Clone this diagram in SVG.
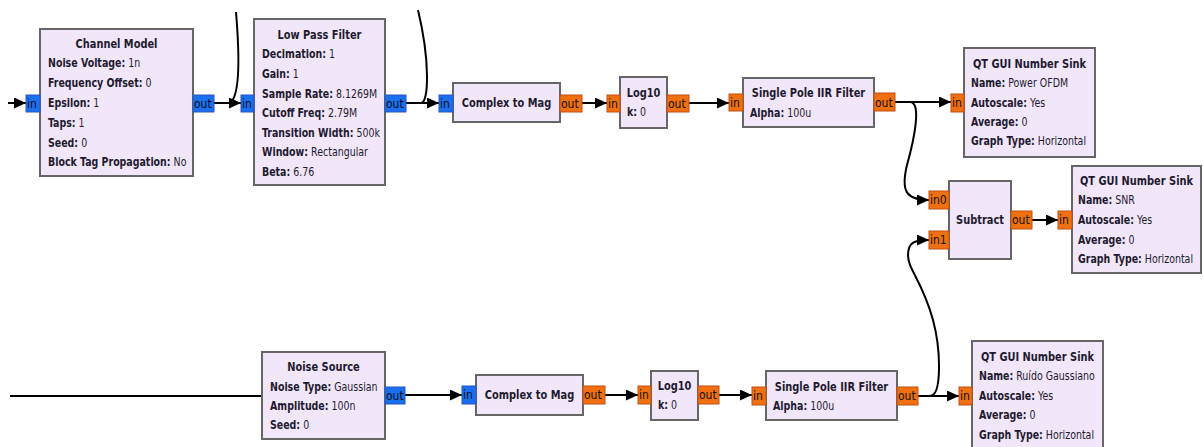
<svg xmlns="http://www.w3.org/2000/svg" width="1203" height="447" viewBox="0 0 1203 447">
<defs>
<marker id="ah" markerUnits="userSpaceOnUse" markerWidth="13" markerHeight="11" refX="12" refY="5.5" orient="auto"><path d="M0,0 L12,5.5 L0,11 z" fill="#000"/></marker>
<style>
.blk{fill:#f2e6fb;stroke:#666;stroke-width:2}
.pb{fill:#1a6ef0;stroke:#2a56c0;stroke-width:1}
.po{fill:#f07010;stroke:#c24e14;stroke-width:1}
text{font-family:"DejaVu Sans Condensed","DejaVu Sans",sans-serif;font-size:12px;fill:#1e1a2e}
.pt{fill:#111}
.t{font-weight:bold;font-size:12.5px}
.b{font-weight:bold}
.c{fill:none;stroke:#000;stroke-width:2}
</style>
</defs>
<rect width="1203" height="447" fill="#fff"/>
<g id="connectors">
<path class="c" d="M8,103 H26" marker-end="url(#ah)"/>
<path class="c" d="M214,103 H241" marker-end="url(#ah)"/>
<path class="c" d="M236,12 C240,60 240,96 230,103"/>
<path class="c" d="M406,103 H439" marker-end="url(#ah)"/>
<path class="c" d="M406,103 H421 C429,103 430,60 418,10"/>
<path class="c" d="M582,103 H607" marker-end="url(#ah)"/>
<path class="c" d="M689,103 H729" marker-end="url(#ah)"/>
<path class="c" d="M895,102 H951" marker-end="url(#ah)"/>
<path class="c" d="M895,102 H910 C922,102 914,140 907,165 C901,190 905,200 929,200" marker-end="url(#ah)"/>
<path class="c" d="M1032,220 H1058" marker-end="url(#ah)"/>
<path class="c" d="M10,396 H262"/>
<path class="c" d="M405,395 H462" marker-end="url(#ah)"/>
<path class="c" d="M605,395 H638" marker-end="url(#ah)"/>
<path class="c" d="M719,395 H752" marker-end="url(#ah)"/>
<path class="c" d="M918,396 H959" marker-end="url(#ah)"/>
<path class="c" d="M918,396 H930 C942,396 941,350 933,320 C922,280 908,270 908,255 C908,242 915,240 929,240" marker-end="url(#ah)"/>
</g>
<g id="channel_model">
<rect class="blk" x="40" y="29" width="153" height="147"/>
<rect class="pb" x="26" y="95" width="14" height="17"/><text class="pt" x="27" y="108">in</text>
<rect class="pb" x="193" y="95" width="21" height="17"/><text class="pt" x="194" y="108">out</text>
<text class="t" text-anchor="middle" transform="translate(116.5 48) scale(0.875 1)">Channel Model</text>
<text transform="translate(48 67) scale(0.875 1)"><tspan class="b">Noise Voltage:</tspan> 1n</text>
<text transform="translate(48 87) scale(0.875 1)"><tspan class="b">Frequency Offset:</tspan> 0</text>
<text transform="translate(48 107) scale(0.875 1)"><tspan class="b">Epsilon:</tspan> 1</text>
<text transform="translate(48 127) scale(0.875 1)"><tspan class="b">Taps:</tspan> 1</text>
<text transform="translate(48 147) scale(0.875 1)"><tspan class="b">Seed:</tspan> 0</text>
<text transform="translate(48 166) scale(0.875 1)"><tspan class="b">Block Tag Propagation:</tspan> No</text>
</g>
<g id="low_pass_filter">
<rect class="blk" x="254" y="19" width="131" height="166"/>
<rect class="pb" x="241" y="95" width="13" height="17"/><text class="pt" x="242" y="108">in</text>
<rect class="pb" x="385" y="95" width="21" height="17"/><text class="pt" x="386" y="108">out</text>
<text class="t" text-anchor="middle" transform="translate(319.5 39) scale(0.875 1)">Low Pass Filter</text>
<text transform="translate(262 58) scale(0.875 1)"><tspan class="b">Decimation:</tspan> 1</text>
<text transform="translate(262 78) scale(0.875 1)"><tspan class="b">Gain:</tspan> 1</text>
<text transform="translate(262 98) scale(0.875 1)"><tspan class="b">Sample Rate:</tspan> 8.1269M</text>
<text transform="translate(262 117) scale(0.875 1)"><tspan class="b">Cutoff Freq:</tspan> 2.79M</text>
<text transform="translate(262 137) scale(0.875 1)"><tspan class="b">Transition Width:</tspan> 500k</text>
<text transform="translate(262 156) scale(0.875 1)"><tspan class="b">Window:</tspan> Rectangular</text>
<text transform="translate(262 176) scale(0.875 1)"><tspan class="b">Beta:</tspan> 6.76</text>
</g>
<g id="complex_to_mag_1">
<rect class="blk" x="453" y="83" width="107" height="39"/>
<rect class="pb" x="439" y="95" width="14" height="17"/><text class="pt" x="440" y="108">in</text>
<rect class="po" x="560" y="95" width="22" height="17"/><text class="pt" x="561" y="108">out</text>
<text class="t" text-anchor="middle" transform="translate(506.5 107) scale(0.875 1)">Complex to Mag</text>
</g>
<g id="log10_1">
<rect class="blk" x="620" y="77" width="47" height="51"/>
<rect class="po" x="607" y="95" width="13" height="17"/><text class="pt" x="608" y="108">in</text>
<rect class="po" x="667" y="95" width="22" height="17"/><text class="pt" x="668" y="108">out</text>
<text class="t" text-anchor="middle" transform="translate(643.5 97) scale(0.875 1)">Log10</text>
<text transform="translate(627 116) scale(0.875 1)"><tspan class="b">k:</tspan> 0</text>
</g>
<g id="iir_1">
<rect class="blk" x="743" y="78" width="131" height="49"/>
<rect class="po" x="729" y="94" width="14" height="17"/><text class="pt" x="730" y="107">in</text>
<rect class="po" x="874" y="93" width="21" height="18"/><text class="pt" x="875" y="107">out</text>
<text class="t" text-anchor="middle" transform="translate(808.5 97) scale(0.875 1)">Single Pole IIR Filter</text>
<text transform="translate(750 117) scale(0.875 1)"><tspan class="b">Alpha:</tspan> 100u</text>
</g>
<g id="sink_power">
<rect class="blk" x="964" y="48" width="131" height="109"/>
<rect class="po" x="951" y="94" width="13" height="18"/><text class="pt" x="952" y="107">in</text>
<text class="t" text-anchor="middle" transform="translate(1029.5 68) scale(0.875 1)">QT GUI Number Sink</text>
<text transform="translate(971 87) scale(0.875 1)"><tspan class="b">Name:</tspan> Power OFDM</text>
<text transform="translate(971 107) scale(0.875 1)"><tspan class="b">Autoscale:</tspan> Yes</text>
<text transform="translate(971 126) scale(0.875 1)"><tspan class="b">Average:</tspan> 0</text>
<text transform="translate(971 145) scale(0.875 1)"><tspan class="b">Graph Type:</tspan> Horizontal</text>
</g>
<g id="subtract">
<rect class="blk" x="949" y="181" width="62" height="78"/>
<rect class="po" x="929" y="191" width="20" height="18"/><text class="pt" x="930" y="204">in0</text>
<rect class="po" x="929" y="231" width="20" height="18"/><text class="pt" x="930" y="244">in1</text>
<rect class="po" x="1011" y="211" width="21" height="18"/><text class="pt" x="1012" y="224">out</text>
<text class="t" text-anchor="middle" transform="translate(980 224) scale(0.875 1)">Subtract</text>
</g>
<g id="sink_snr">
<rect class="blk" x="1072" y="166" width="129" height="107"/>
<rect class="po" x="1058" y="211" width="14" height="18"/><text class="pt" x="1059" y="224">in</text>
<text class="t" text-anchor="middle" transform="translate(1136.5 185) scale(0.875 1)">QT GUI Number Sink</text>
<text transform="translate(1078 204) scale(0.875 1)"><tspan class="b">Name:</tspan> SNR</text>
<text transform="translate(1078 224) scale(0.875 1)"><tspan class="b">Autoscale:</tspan> Yes</text>
<text transform="translate(1078 244) scale(0.875 1)"><tspan class="b">Average:</tspan> 0</text>
<text transform="translate(1078 263) scale(0.875 1)"><tspan class="b">Graph Type:</tspan> Horizontal</text>
</g>
<g id="noise_source">
<rect class="blk" x="262" y="352" width="123" height="87"/>
<rect class="pb" x="385" y="387" width="20" height="17"/><text class="pt" x="386" y="400">out</text>
<text class="t" text-anchor="middle" transform="translate(323.5 371) scale(0.875 1)">Noise Source</text>
<text transform="translate(270 391) scale(0.875 1)"><tspan class="b">Noise Type:</tspan> Gaussian</text>
<text transform="translate(270 410) scale(0.875 1)"><tspan class="b">Amplitude:</tspan> 100n</text>
<text transform="translate(270 429) scale(0.875 1)"><tspan class="b">Seed:</tspan> 0</text>
</g>
<g id="complex_to_mag_2">
<rect class="blk" x="476" y="375" width="107" height="40"/>
<rect class="pb" x="462" y="386" width="14" height="18"/><text class="pt" x="463" y="399">in</text>
<rect class="po" x="583" y="386" width="22" height="18"/><text class="pt" x="584" y="399">out</text>
<text class="t" text-anchor="middle" transform="translate(529.5 399) scale(0.875 1)">Complex to Mag</text>
</g>
<g id="log10_2">
<rect class="blk" x="651" y="371" width="47" height="49"/>
<rect class="po" x="638" y="386" width="13" height="18"/><text class="pt" x="639" y="399">in</text>
<rect class="po" x="698" y="386" width="21" height="18"/><text class="pt" x="699" y="399">out</text>
<text class="t" text-anchor="middle" transform="translate(674.5 390) scale(0.875 1)">Log10</text>
<text transform="translate(658 409) scale(0.875 1)"><tspan class="b">k:</tspan> 0</text>
</g>
<g id="iir_2">
<rect class="blk" x="766" y="371" width="131" height="49"/>
<rect class="po" x="752" y="387" width="14" height="18"/><text class="pt" x="753" y="400">in</text>
<rect class="po" x="897" y="387" width="21" height="18"/><text class="pt" x="898" y="400">out</text>
<text class="t" text-anchor="middle" transform="translate(831.5 391) scale(0.875 1)">Single Pole IIR Filter</text>
<text transform="translate(773 410) scale(0.875 1)"><tspan class="b">Alpha:</tspan> 100u</text>
</g>
<g id="sink_noise">
<rect class="blk" x="972" y="341" width="131" height="112"/>
<rect class="po" x="959" y="387" width="13" height="18"/><text class="pt" x="960" y="400">in</text>
<text class="t" text-anchor="middle" transform="translate(1037.5 361) scale(0.875 1)">QT GUI Number Sink</text>
<text transform="translate(979 380) scale(0.875 1)"><tspan class="b">Name:</tspan> Ruído Gaussiano</text>
<text transform="translate(979 400) scale(0.875 1)"><tspan class="b">Autoscale:</tspan> Yes</text>
<text transform="translate(979 419) scale(0.875 1)"><tspan class="b">Average:</tspan> 0</text>
<text transform="translate(979 439) scale(0.875 1)"><tspan class="b">Graph Type:</tspan> Horizontal</text>
</g>
</svg>
